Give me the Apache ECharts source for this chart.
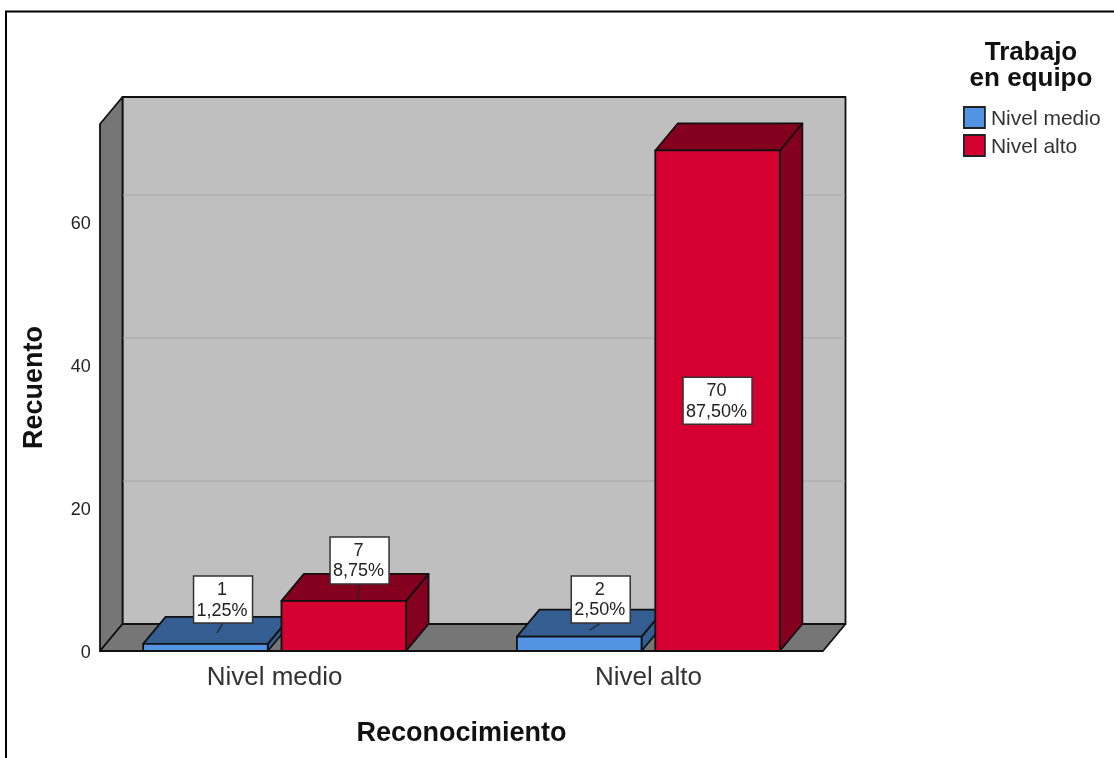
<!DOCTYPE html>
<html><head><meta charset="utf-8">
<style>html,body{margin:0;padding:0;background:#fff}#c{width:1114px;height:758px}</style>
<script src="https://cdn.jsdelivr.net/npm/echarts@6/dist/echarts.min.js"></script>
</head><body><div id="c"></div>
<script>
const categories = ['Nivel medio', 'Nivel alto'];
const medioValues = [1, 2];
const altoValues = [7, 70];
const medioPercents = ['1,25%', '2,50%'];
const altoPercents = ['8,75%', '87,50%'];
const yTicks = [20, 40, 60];
const yMax = 73.7;

const FONT = '"Liberation Sans", Arial, sans-serif';
const DEPTH = 22.5, RISE = 27, FRONT_L = 100, FRONT_R = 823;
const BLUE = ['#5393E4', '#345E91'], RED = ['#D60030', '#84001E'];
const EDGE = { stroke: '#111', lineWidth: 1.8, lineJoin: 'round' };

function poly(points, fill, style) {
  return { type: 'polygon', shape: { points }, style: Object.assign({ fill }, EDGE, style || {}) };
}
function renderWalls(params, api) {
  const y0 = api.coord([0, 0])[1], yT = api.coord([0, yMax])[1];
  const L = FRONT_L, R = FRONT_R, D = DEPTH, H = RISE;
  const children = [
    poly([[L + D, yT - H], [R + D, yT - H], [R + D, y0 - H], [L + D, y0 - H]], '#BFBFBF'),
    poly([[L, yT], [L + D, yT - H], [L + D, y0 - H], [L, y0]], '#767676'),
    poly([[L, y0], [L + D, y0 - H], [R + D, y0 - H], [R, y0]], '#767676')
  ];
  yTicks.forEach(t => {
    const y = api.coord([0, t])[1] - H;
    children.push({ type: 'line', shape: { x1: L + D + 1, y1: y, x2: R + D - 1, y2: y },
      style: { stroke: '#B3B3B3', lineWidth: 2 } });
  });
  return { type: 'group', children };
}
function barBox(api, side) {
  const band = api.size([1, 0])[0];
  const w = band / 3;
  const p = api.coord([api.value(0), api.value(1)]);
  const base = api.coord([api.value(0), 0])[1];
  const cx = p[0] + side * band * 0.185;
  return { x1: cx - w / 2, x2: cx + w / 2, cx, top: p[1], base };
}
function bar3d(side, colors) {
  return (params, api) => {
    const b = barBox(api, side);
    return { type: 'group', children: [
      poly([[b.x2, b.top], [b.x2 + DEPTH, b.top - RISE], [b.x2 + DEPTH, b.base - RISE], [b.x2, b.base]], colors[1]),
      poly([[b.x1, b.top], [b.x1 + DEPTH, b.top - RISE], [b.x2 + DEPTH, b.top - RISE], [b.x2, b.top]], colors[1]),
      poly([[b.x1, b.top], [b.x2, b.top], [b.x2, b.base], [b.x1, b.base]], colors[0])
    ] };
  };
}
// box offset and leader anchor offset relative to the bar's front-top centre
const labelLayout = {
  '-1_0': { box: [17.6, -44.3], lead: [11.5, -10.8] },
  '-1_1': { box: [21.5, -37.2], lead: [10.5, -6.7] },
  '1_0': { box: [15.8, -40.5], lead: [13.8, -1] },
  '1_1': { mid: true }
};
function labelRenderer(side, percents) {
  return (params, api) => {
    const b = barBox(api, side);
    const idx = params.dataIndex;
    const lay = labelLayout[side + '_' + idx];
    const value = String(api.value(1)), pct = percents[idx];
    const cx = lay.mid ? b.cx : b.cx + lay.box[0];
    const cy = lay.mid ? (b.top + b.base) / 2 : b.top + lay.box[1];
    const w = pct.length > 5 ? 69 : 59, h = 47;
    const children = [];
    if (!lay.mid) {
      children.push({ type: 'line', shape: { x1: b.cx + lay.lead[0], y1: b.top + lay.lead[1], x2: cx, y2: cy + h / 2 },
        style: { stroke: '#222', lineWidth: 1.2 } });
    }
    children.push({ type: 'rect', shape: { x: cx - w / 2, y: cy - h / 2, width: w, height: h },
      style: { fill: '#fff', stroke: '#333', lineWidth: 1.5 } });
    children.push({ type: 'text', style: { text: value, x: cx - 1, y: cy - 9.5, align: 'center', verticalAlign: 'middle',
      font: '18px ' + FONT, fill: '#222' } });
    children.push({ type: 'text', style: { text: pct, x: cx - 1, y: cy + 11, align: 'center', verticalAlign: 'middle',
      font: '18px ' + FONT, fill: '#222' } });
    return { type: 'group', children };
  };
}
const toData = arr => arr.map((v, i) => [i, v]);
const chart = echarts.init(document.getElementById('c'), null, { renderer: 'canvas' });
chart.setOption({
  animation: false,
  backgroundColor: '#fff',
  graphic: [
    { type: 'polyline', silent: true, shape: { points: [[6, 760], [6, 11.5], [1116, 11.5]] },
      style: { stroke: '#000', lineWidth: 2, fill: null }, z: 100 }
  ],
  title: {
    text: 'Trabajo\nen equipo', left: 1026, top: 35, textAlign: 'center',
    textStyle: { fontFamily: FONT, fontSize: 26, fontWeight: 'bold', color: '#111', lineHeight: 26 }
  },
  legend: {
    orient: 'vertical', left: 963, top: 105, padding: 0, itemWidth: 21, itemHeight: 21, itemGap: 3,
    data: ['Nivel medio', 'Nivel alto'], icon: 'rect', selectedMode: false,
    itemStyle: { borderColor: '#222', borderWidth: 1.8 },
    formatter: '{t|{name}}',
    textStyle: { rich: { t: { fontFamily: FONT, fontSize: 21, lineHeight: 21, color: '#333', padding: [4, 0, 0, 1] } } }
  },
  grid: { left: 87.7, right: 278.7, top: 124, bottom: 107 },
  xAxis: {
    type: 'category', data: categories, name: 'Reconocimiento', nameLocation: 'middle', nameGap: 69,
    nameTextStyle: { fontFamily: FONT, fontSize: 27, fontWeight: 'bold', color: '#111' },
    axisLine: { show: false }, axisTick: { show: false }, splitLine: { show: false },
    axisLabel: { fontFamily: FONT, fontSize: 26, color: '#333', margin: 14 }
  },
  yAxis: {
    type: 'value', min: 0, max: yMax, interval: 20, name: 'Recuento', nameLocation: 'middle', nameGap: 40,
    nameTextStyle: { fontFamily: FONT, fontSize: 27, fontWeight: 'bold', color: '#111' },
    axisLine: { show: false }, axisTick: { show: false }, splitLine: { show: false },
    axisLabel: { margin: -3, showMaxLabel: false, formatter: '{t|{value}}',
      rich: { t: { fontFamily: FONT, fontSize: 18, lineHeight: 18, color: '#222', padding: [4, 0, 0, 0] } } }
  },
  series: [
    { type: 'custom', name: 'walls', silent: true, clip: false, renderItem: renderWalls, data: [[0, 0]], z: 1 },
    { type: 'custom', name: 'Nivel medio', clip: false, renderItem: bar3d(-1, BLUE), data: toData(medioValues),
      itemStyle: { color: BLUE[0] }, z: 2 },
    { type: 'custom', name: 'Nivel alto', clip: false, renderItem: bar3d(1, RED), data: toData(altoValues),
      itemStyle: { color: RED[0] }, z: 3 },
    { type: 'custom', name: 'labelsMedio', silent: true, clip: false, renderItem: labelRenderer(-1, medioPercents),
      data: toData(medioValues), z: 4 },
    { type: 'custom', name: 'labelsAlto', silent: true, clip: false, renderItem: labelRenderer(1, altoPercents),
      data: toData(altoValues), z: 4 }
  ]
});
</script></body></html>
